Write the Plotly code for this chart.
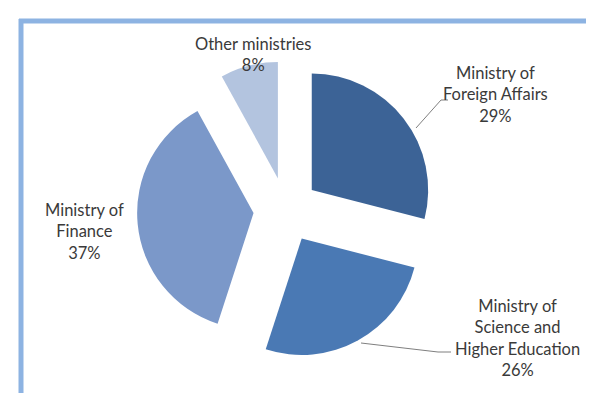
import plotly.graph_objects as go

labels = ["Ministry of Foreign Affairs", "Ministry of Science and Higher Education",
          "Ministry of Finance", "Other ministries"]
label_text = ["Ministry of<br>Foreign Affairs<br>29%",
              "Ministry of<br>Science and<br>Higher Education<br>26%",
              "Ministry of<br>Finance<br>37%",
              "Other ministries<br>8%"]
values = [29, 26, 37, 8]
colors = ["#3C6396", "#4A79B4", "#7B98C9", "#B3C4DF"]

W, H = 594, 393

def px(x):
    return x / W

def py(y):
    return 1 - y / H

cx, cy, box = 278, 202, 298
fig = go.Figure(go.Pie(
    labels=labels, values=values, sort=False, direction="clockwise", rotation=0,
    pull=[0.28, 0.28, 0.28, 0.28], textinfo="none", hoverinfo="label+percent",
    marker=dict(colors=colors, line=dict(width=0)),
    domain=dict(x=[px(cx - box / 2), px(cx + box / 2)],
                y=[py(cy + box / 2), py(cy - box / 2)]),
    showlegend=False,
))

font = dict(family="Lato, Carlito, sans-serif", size=16.5, color="#3A3A3A")
ann_pos = [(487, 86), (509, 330), (76, 223), (245, 46)]
for t, (x, y) in zip(label_text, ann_pos):
    fig.add_annotation(x=px(x), y=py(y), xref="paper", yref="paper", text=t,
                       showarrow=False, font=font, align="center",
                       xanchor="center", yanchor="middle")

def path(points):
    return "M " + " L ".join(f"{px(x)},{py(y)}" for x, y in points)

shapes = [
    dict(type="path", path=path([(408, 120), (433, 92), (440, 92)]),
         line=dict(color="#7F7F7F", width=1)),
    dict(type="path", path=path([(353, 335), (430, 344), (443, 344)]),
         line=dict(color="#7F7F7F", width=1)),
    # frame
    dict(type="line", x0=px(13), x1=px(13), y0=py(11), y1=py(393),
         line=dict(color="#8DB3E2", width=5)),
    dict(type="line", x0=px(11), x1=1.01, y0=py(13), y1=py(13),
         line=dict(color="#8DB3E2", width=5)),
    dict(type="line", x0=px(15), x1=1.01, y0=py(391), y1=py(391),
         line=dict(color="#DCE6F2", width=1.5)),
]
for s in shapes:
    s.update(xref="paper", yref="paper")
fig.update_layout(shapes=shapes, width=W, height=H,
                  margin=dict(l=0, r=0, t=0, b=0),
                  paper_bgcolor="white", plot_bgcolor="white")
fig.write_html("out.html")
